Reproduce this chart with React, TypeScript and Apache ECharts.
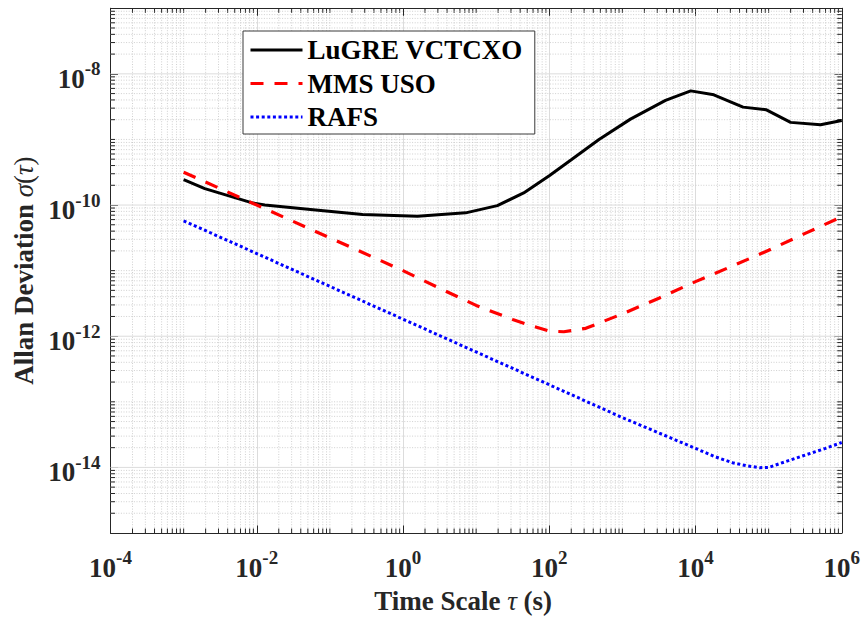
import React, { useEffect, useRef } from 'react';
import * as echarts from 'echarts';

// ---- data (tau in seconds, sigma = Allan deviation) ----
const lugreTau = [1e-3, 1.95e-3, 8.9e-3, 1.29e-2, 5.9e-2, 0.28, 1.58, 7.2, 19.5, 44.7, 100, 200, 479, 1290, 3890, 8610, 17800, 44700, 93300, 2.0e5, 5.13e5, 1e6];
const lugreSigma = [2.45e-10, 1.78e-10, 1.07e-10, 1.0e-10, 8.5e-11, 7.16e-11, 6.76e-11, 7.6e-11, 9.8e-11, 1.53e-10, 2.8e-10, 4.9e-10, 1.0e-9, 2.04e-9, 3.94e-9, 5.5e-9, 4.79e-9, 3.11e-9, 2.83e-9, 1.82e-9, 1.67e-9, 1.95e-9];

const mmsTau = [1e-3, 1e-2, 0.1, 1, 3.16, 10, 31.6, 56, 100, 158, 316, 1000, 3160, 1e4, 3.16e4, 1e5, 3.16e5, 1e6];
const mmsSigma = [3.16e-10, 1.0e-10, 3.16e-11, 1.0e-11, 5.4e-12, 2.95e-12, 1.8e-12, 1.45e-12, 1.2e-12, 1.17e-12, 1.32e-12, 2.19e-12, 3.8e-12, 6.8e-12, 1.17e-11, 2.04e-11, 3.7e-11, 6.6e-11];

const rafsTau = [1e-3, 1e-2, 0.1, 1, 10, 100, 1000, 1e4, 1.8e4, 3.2e4, 5e4, 7.5e4, 1e5, 2e5, 3.2e5, 6e5, 1e6];
const rafsSigma = [5.75e-11, 1.82e-11, 5.75e-12, 1.82e-12, 5.75e-13, 1.82e-13, 5.75e-14, 1.95e-14, 1.47e-14, 1.18e-14, 1.06e-14, 9.9e-15, 1.0e-14, 1.3e-14, 1.55e-14, 1.95e-14, 2.4e-14];

const seriesNames = ['LuGRE VCTCXO', 'MMS USO', 'RAFS'];

// axis exponents (decades)
const X_MIN = -4;
const X_MAX = 6;
const Y_MIN = -15;
const Y_MAX = -7;
const yMajorExps = [-14, -12, -10, -8];
const minorMultipliers = [1, 2, 3, 4, 5, 6, 7, 8, 9];

const FONT = "'Liberation Serif', 'Times New Roman', serif";
const TXT = '#262626';
const AX = '#262626';
const MAJOR_LEN = 7.5;
const MINOR_LEN = 4.5;

const toLog = (t: number[], s: number[]) => t.map((v, i) => [Math.log10(v), Math.log10(s[i])]);

const xMinor: number[] = [];
for (let n = X_MIN; n < X_MAX; n++) {
  for (const k of minorMultipliers) {
    if (k === 1 && n % 2 === 0) continue;
    xMinor.push(n + Math.log10(k));
  }
}
const yMinor: number[] = [];
for (let n = Y_MIN; n < Y_MAX; n++) {
  for (const k of minorMultipliers) {
    if (k === 1 && (n % 2 === 0 || n === Y_MIN)) continue;
    yMinor.push(n + Math.log10(k));
  }
}

const minorGridStyle = { stroke: '#c4c4c4', lineWidth: 0.8, lineDash: [1, 1.6] };
const majorGridStyle = { stroke: '#dcdcdc', lineWidth: 1 };
const tickStyle = { stroke: AX, lineWidth: 1 };

const labelRich = {
  b: { fontFamily: FONT, fontWeight: 'bold', fontSize: 27, lineHeight: 33, verticalAlign: 'bottom', color: TXT },
  s: { fontFamily: FONT, fontWeight: 'bold', fontSize: 19, lineHeight: 19, verticalAlign: 'top', color: TXT },
};
const nameRich = {
  b: { fontFamily: FONT, fontWeight: 'bold', fontSize: 27, lineHeight: 27, color: TXT },
  g: { fontFamily: FONT, fontStyle: 'italic', fontWeight: 'normal', fontSize: 27, lineHeight: 27, color: TXT },
  p: { fontFamily: FONT, fontWeight: 'normal', fontSize: 27, lineHeight: 27, color: TXT },
};

const expLabel = (v: number) => `{b|10}{s|${v}}`;
const axisLine = { show: true, onZero: false, lineStyle: { color: AX, width: 1 } };

export default function App() {
  const ref = useRef<HTMLDivElement>(null);
  useEffect(() => {
    if (!ref.current) return;
    const chart = echarts.init(ref.current, undefined, { renderer: 'svg' });
    const option: any = {
      animation: false,
      backgroundColor: '#ffffff',
      grid: { left: 110.5, top: 8.25, right: 20, bottom: 84.75 },
      legend: {
        data: seriesNames,
        orient: 'vertical',
        left: 243,
        top: 31,
        itemWidth: 52,
        itemHeight: 27,
        itemGap: 6.5,
        padding: [5.5, 12, 3.5, 6],
        borderColor: '#3a3a3a',
        borderWidth: 1,
        backgroundColor: '#ffffff',
        lineStyle: { width: 3 },
        itemStyle: { opacity: 0 },
        textStyle: { fontFamily: FONT, fontWeight: 'bold', fontSize: 27, lineHeight: 27, color: '#000' },
      },
      xAxis: [
        {
          type: 'value', min: X_MIN, max: X_MAX, interval: 2,
          name: '{b|Time Scale }{g|τ}{b| (s)}',
          nameLocation: 'middle', nameGap: 54,
          nameTextStyle: { rich: nameRich, padding: [0, 26, 0, 0] },
          axisLine,
          axisTick: { show: true, inside: true, length: MAJOR_LEN, lineStyle: { color: AX, width: 1 } },
          axisLabel: { formatter: expLabel, rich: labelRich, margin: 11, padding: [4, 0, 0, 0] },
          splitLine: { show: true, lineStyle: { color: '#dcdcdc', width: 1 } },
        },
        {
          type: 'value', min: X_MIN, max: X_MAX, interval: 2, position: 'top',
          axisLine,
          axisTick: { show: true, inside: true, length: MAJOR_LEN, lineStyle: { color: AX, width: 1 } },
          axisLabel: { show: false },
          splitLine: { show: false },
        },
      ],
      yAxis: [
        {
          type: 'value', min: Y_MIN, max: Y_MAX,
          name: '{b|Allan Deviation }{g|σ}{p|(}{g|τ}{p|)}',
          nameLocation: 'middle', nameGap: 73,
          nameTextStyle: { rich: nameRich },
          axisLine,
          axisTick: { show: true, inside: true, length: MAJOR_LEN, customValues: yMajorExps, lineStyle: { color: AX, width: 1 } },
          axisLabel: { formatter: expLabel, rich: labelRich, margin: 10, padding: [4, 0, 0, 0], customValues: yMajorExps },
          splitLine: { show: false },
        },
        {
          type: 'value', min: Y_MIN, max: Y_MAX, position: 'right',
          axisLine,
          axisTick: { show: true, inside: true, length: MAJOR_LEN, customValues: yMajorExps, lineStyle: { color: AX, width: 1 } },
          axisLabel: { show: false },
          splitLine: { show: false },
        },
      ],
      series: [
        {
          type: 'custom', z: 1, silent: true, clip: false,
          data: xMinor.map((v) => [v, Y_MIN]),
          renderItem: (_p: any, api: any) => {
            const v = api.value(0);
            const b = api.coord([v, Y_MIN]);
            const t = api.coord([v, Y_MAX]);
            return {
              type: 'group',
              children: [
                { type: 'line', shape: { x1: b[0], y1: b[1], x2: t[0], y2: t[1] }, style: minorGridStyle },
                { type: 'line', shape: { x1: b[0], y1: b[1], x2: b[0], y2: b[1] - MINOR_LEN }, style: tickStyle },
                { type: 'line', shape: { x1: t[0], y1: t[1], x2: t[0], y2: t[1] + MINOR_LEN }, style: tickStyle },
              ],
            };
          },
        },
        {
          type: 'custom', z: 1, silent: true, clip: false,
          data: yMinor.map((v) => [X_MIN, v]),
          renderItem: (_p: any, api: any) => {
            const v = api.value(1);
            const l = api.coord([X_MIN, v]);
            const r = api.coord([X_MAX, v]);
            return {
              type: 'group',
              children: [
                { type: 'line', shape: { x1: l[0], y1: l[1], x2: r[0], y2: r[1] }, style: minorGridStyle },
                { type: 'line', shape: { x1: l[0], y1: l[1], x2: l[0] + MINOR_LEN, y2: l[1] }, style: tickStyle },
                { type: 'line', shape: { x1: r[0], y1: r[1], x2: r[0] - MINOR_LEN, y2: r[1] }, style: tickStyle },
              ],
            };
          },
        },
        {
          type: 'custom', z: 1, silent: true, clip: false,
          data: yMajorExps.map((v) => [X_MIN, v]),
          renderItem: (_p: any, api: any) => {
            const v = api.value(1);
            const l = api.coord([X_MIN, v]);
            const r = api.coord([X_MAX, v]);
            return { type: 'line', shape: { x1: l[0], y1: l[1], x2: r[0], y2: r[1] }, style: majorGridStyle };
          },
        },
        {
          name: seriesNames[0], type: 'line', z: 3, symbol: 'none', showSymbol: false,
          data: toLog(lugreTau, lugreSigma),
          lineStyle: { color: '#000000', width: 3, type: 'solid' },
          itemStyle: { color: '#000000' },
        },
        {
          name: seriesNames[1], type: 'line', z: 3, symbol: 'none', showSymbol: false,
          data: toLog(mmsTau, mmsSigma),
          lineStyle: { color: '#ff0000', width: 3.2, type: [13, 11], cap: 'butt' },
          itemStyle: { color: '#ff0000' },
        },
        {
          name: seriesNames[2], type: 'line', z: 3, symbol: 'none', showSymbol: false,
          data: toLog(rafsTau, rafsSigma),
          lineStyle: { color: '#0000ff', width: 3, type: [3, 2.6], cap: 'butt' },
          itemStyle: { color: '#0000ff' },
        },
      ],
    };
    chart.setOption(option);
    return () => chart.dispose();
  }, []);
  return <div ref={ref} style={{ position: 'absolute', left: 0, top: 0, width: 863, height: 619 }} />;
}
